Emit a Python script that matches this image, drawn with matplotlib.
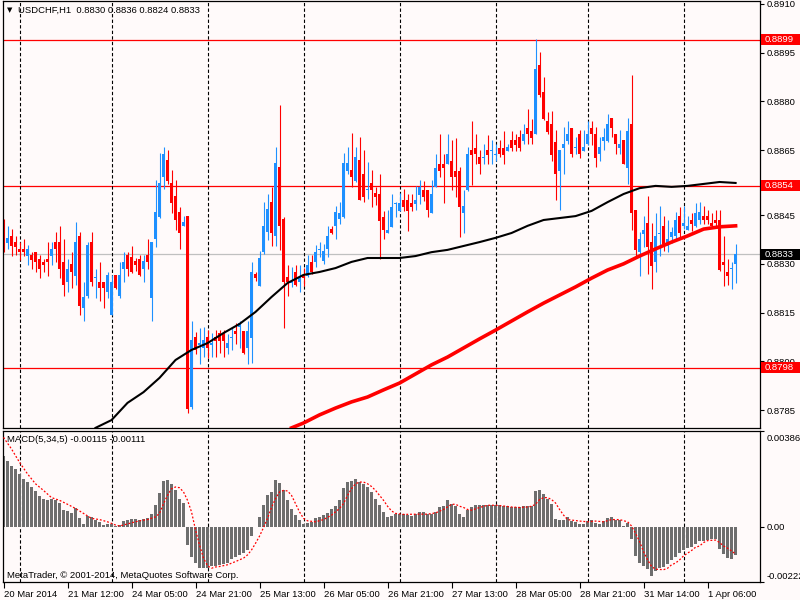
import numpy as np
import pandas as pd
import matplotlib
matplotlib.use('Agg')
import matplotlib.pyplot as plt
import matplotlib.transforms as mtransforms
from matplotlib.patches import Rectangle

plt.rcParams['font.family'] = ['Liberation Sans', 'DejaVu Sans']
plt.rcParams['font.size'] = 6.8

symbol = 'USDCHF,H1'

# hourly candles, 20 Mar 2014 20:00 .. 1 Apr 2014 13:00
open_ = np.array([
    0.88398, 0.88364, 0.88387, 0.88366, 0.88347, 0.88347, 0.88324, 0.88326, 0.88338, 0.88316,
    0.88307, 0.88316, 0.88324, 0.88366, 0.88366, 0.88307, 0.88243, 0.88298, 0.88264, 0.88387,
    0.88163, 0.88202, 0.88366, 0.88256, 0.88245, 0.88245, 0.88212, 0.88144, 0.88267, 0.88202,
    0.88283, 0.88326, 0.88320, 0.88308, 0.88316, 0.88283, 0.88326, 0.88194, 0.88376, 0.88445,
    0.88568, 0.88619, 0.88548, 0.88508, 0.88459, 0.88417, 0.88446, 0.87859, 0.88075, 0.88051,
    0.88042, 0.88075, 0.88051, 0.88075, 0.88086, 0.88086, 0.88042, 0.88073, 0.88094, 0.88106,
    0.88094, 0.88042, 0.88073, 0.88269, 0.88233, 0.88336, 0.88398, 0.88490, 0.88385, 0.88599,
    0.88437, 0.88259, 0.88241, 0.88276, 0.88243, 0.88267, 0.88264, 0.88307, 0.88305, 0.88344,
    0.88310, 0.88346, 0.88408, 0.88416, 0.88437, 0.88444, 0.88586, 0.88590, 0.88555, 0.88619,
    0.88578, 0.88527, 0.88549, 0.88517, 0.88515, 0.88445, 0.88394, 0.88414, 0.88485, 0.88464,
    0.88497, 0.88497, 0.88487, 0.88484, 0.88513, 0.88528, 0.88528, 0.88456, 0.88538, 0.88608,
    0.88608, 0.88608, 0.88618, 0.88587, 0.88587, 0.88456, 0.88528, 0.88649, 0.88657, 0.88629,
    0.88626, 0.88649, 0.88647, 0.88635, 0.88657, 0.88657, 0.88647, 0.88680, 0.88680, 0.88690,
    0.88678, 0.88719, 0.88709, 0.88699, 0.88912, 0.88829, 0.88740, 0.88730, 0.88675, 0.88587,
    0.88657, 0.88678, 0.88719, 0.88657, 0.88699, 0.88647, 0.88668, 0.88719, 0.88699, 0.88637,
    0.88678, 0.88678, 0.88750, 0.88699, 0.88657, 0.88680, 0.88596, 0.88730, 0.88467, 0.88336,
    0.88392, 0.88426, 0.88367, 0.88305, 0.88393, 0.88418, 0.88356, 0.88384, 0.88387, 0.88446,
    0.88416, 0.88405, 0.88436, 0.88415, 0.88436, 0.88446, 0.88446, 0.88426, 0.88436, 0.88436,
    0.88307, 0.88276, 0.88283, 0.88300])
high_ = np.array([
    0.88437, 0.88418, 0.88406, 0.88387, 0.88366, 0.88378, 0.88357, 0.88335, 0.88338, 0.88326,
    0.88316, 0.88366, 0.88366, 0.88398, 0.88418, 0.88378, 0.88316, 0.88338, 0.88428, 0.88397,
    0.88245, 0.88366, 0.88397, 0.88285, 0.88307, 0.88245, 0.88276, 0.88267, 0.88267, 0.88307,
    0.88338, 0.88335, 0.88354, 0.88318, 0.88326, 0.88326, 0.88377, 0.88366, 0.88557, 0.88640,
    0.88660, 0.88650, 0.88588, 0.88557, 0.88475, 0.88446, 0.88446, 0.88125, 0.88089, 0.88104,
    0.88107, 0.88097, 0.88087, 0.88097, 0.88097, 0.88097, 0.88084, 0.88107, 0.88117, 0.88125,
    0.88094, 0.88125, 0.88307, 0.88274, 0.88341, 0.88490, 0.88516, 0.88537, 0.88660, 0.88789,
    0.88444, 0.88297, 0.88290, 0.88297, 0.88297, 0.88286, 0.88326, 0.88328, 0.88357, 0.88367,
    0.88362, 0.88418, 0.88415, 0.88477, 0.88490, 0.88640, 0.88660, 0.88702, 0.88660, 0.88691,
    0.88650, 0.88614, 0.88588, 0.88537, 0.88577, 0.88464, 0.88466, 0.88515, 0.88489, 0.88517,
    0.88531, 0.88515, 0.88515, 0.88539, 0.88558, 0.88556, 0.88528, 0.88558, 0.88637, 0.88699,
    0.88637, 0.88699, 0.88680, 0.88688, 0.88598, 0.88528, 0.88661, 0.88740, 0.88699, 0.88649,
    0.88670, 0.88696, 0.88680, 0.88670, 0.88680, 0.88709, 0.88670, 0.88709, 0.88699, 0.88711,
    0.88730, 0.88778, 0.88747, 0.88991, 0.88951, 0.88876, 0.88768, 0.88771, 0.88711, 0.88649,
    0.88721, 0.88740, 0.88719, 0.88690, 0.88711, 0.88711, 0.88740, 0.88740, 0.88721, 0.88690,
    0.88719, 0.88760, 0.88750, 0.88699, 0.88711, 0.88680, 0.88748, 0.88882, 0.88467, 0.88398,
    0.88446, 0.88508, 0.88426, 0.88456, 0.88477, 0.88446, 0.88436, 0.88413, 0.88459, 0.88475,
    0.88477, 0.88446, 0.88456, 0.88487, 0.88490, 0.88477, 0.88467, 0.88456, 0.88467, 0.88467,
    0.88387, 0.88315, 0.88307, 0.88360])
low_ = np.array([
    0.88336, 0.88346, 0.88324, 0.88326, 0.88313, 0.88324, 0.88295, 0.88283, 0.88274, 0.88256,
    0.88274, 0.88264, 0.88295, 0.88305, 0.88256, 0.88202, 0.88212, 0.88225, 0.88235, 0.88143,
    0.88123, 0.88194, 0.88231, 0.88194, 0.88185, 0.88163, 0.88194, 0.88144, 0.88223, 0.88194,
    0.88243, 0.88264, 0.88273, 0.88277, 0.88263, 0.88243, 0.88283, 0.88123, 0.88353, 0.88441,
    0.88529, 0.88547, 0.88456, 0.88405, 0.88346, 0.88415, 0.87842, 0.87852, 0.88022, 0.87993,
    0.88014, 0.88011, 0.88014, 0.88014, 0.88024, 0.88014, 0.88022, 0.88034, 0.88053, 0.88042,
    0.88022, 0.87993, 0.87996, 0.88248, 0.88231, 0.88331, 0.88372, 0.88354, 0.88354, 0.88344,
    0.88104, 0.88202, 0.88228, 0.88233, 0.88212, 0.88233, 0.88259, 0.88269, 0.88290, 0.88320,
    0.88300, 0.88320, 0.88393, 0.88377, 0.88423, 0.88442, 0.88578, 0.88537, 0.88552, 0.88496,
    0.88490, 0.88501, 0.88475, 0.88480, 0.88314, 0.88376, 0.88394, 0.88412, 0.88443, 0.88462,
    0.88464, 0.88402, 0.88464, 0.88466, 0.88484, 0.88495, 0.88443, 0.88456, 0.88536, 0.88567,
    0.88486, 0.88606, 0.88526, 0.88505, 0.88383, 0.88394, 0.88525, 0.88544, 0.88608, 0.88577,
    0.88608, 0.88608, 0.88608, 0.88618, 0.88629, 0.88608, 0.88647, 0.88647, 0.88647, 0.88647,
    0.88670, 0.88668, 0.88670, 0.88699, 0.88814, 0.88742, 0.88701, 0.88618, 0.88497, 0.88466,
    0.88577, 0.88670, 0.88629, 0.88637, 0.88627, 0.88647, 0.88665, 0.88665, 0.88598, 0.88618,
    0.88649, 0.88675, 0.88690, 0.88637, 0.88637, 0.88606, 0.88547, 0.88405, 0.88322, 0.88264,
    0.88353, 0.88269, 0.88222, 0.88274, 0.88325, 0.88341, 0.88336, 0.88364, 0.88372, 0.88384,
    0.88408, 0.88403, 0.88402, 0.88413, 0.88423, 0.88423, 0.88423, 0.88413, 0.88415, 0.88279,
    0.88233, 0.88236, 0.88222, 0.88240])
close_ = np.array([
    0.88346, 0.88379, 0.88354, 0.88353, 0.88336, 0.88336, 0.88347, 0.88313, 0.88305, 0.88283,
    0.88295, 0.88305, 0.88347, 0.88345, 0.88283, 0.88234, 0.88285, 0.88274, 0.88366, 0.88171,
    0.88197, 0.88357, 0.88243, 0.88259, 0.88225, 0.88225, 0.88267, 0.88245, 0.88225, 0.88267,
    0.88307, 0.88283, 0.88276, 0.88297, 0.88265, 0.88308, 0.88305, 0.88366, 0.88459, 0.88548,
    0.88638, 0.88555, 0.88487, 0.88436, 0.88395, 0.88428, 0.87852, 0.88065, 0.88034, 0.88055,
    0.88065, 0.88042, 0.88055, 0.88063, 0.88063, 0.88063, 0.88055, 0.88075, 0.88084, 0.88117,
    0.88024, 0.88094, 0.88276, 0.88256, 0.88317, 0.88418, 0.88468, 0.88396, 0.88611, 0.88415,
    0.88243, 0.88243, 0.88243, 0.88235, 0.88256, 0.88256, 0.88297, 0.88276, 0.88338, 0.88346,
    0.88341, 0.88387, 0.88396, 0.88460, 0.88457, 0.88611, 0.88611, 0.88568, 0.88630, 0.88498,
    0.88506, 0.88529, 0.88527, 0.88505, 0.88433, 0.88404, 0.88404, 0.88476, 0.88487, 0.88487,
    0.88474, 0.88464, 0.88474, 0.88497, 0.88536, 0.88505, 0.88466, 0.88515, 0.88596, 0.88585,
    0.88596, 0.88637, 0.88567, 0.88567, 0.88474, 0.88479, 0.88637, 0.88634, 0.88637, 0.88608,
    0.88629, 0.88634, 0.88649, 0.88637, 0.88637, 0.88634, 0.88660, 0.88657, 0.88665, 0.88657,
    0.88699, 0.88699, 0.88688, 0.88899, 0.88819, 0.88747, 0.88706, 0.88634, 0.88577, 0.88649,
    0.88668, 0.88699, 0.88637, 0.88660, 0.88637, 0.88660, 0.88699, 0.88699, 0.88627, 0.88660,
    0.88690, 0.88730, 0.88719, 0.88668, 0.88668, 0.88608, 0.88710, 0.88456, 0.88343, 0.88377,
    0.88405, 0.88353, 0.88294, 0.88387, 0.88395, 0.88362, 0.88377, 0.88398, 0.88436, 0.88394,
    0.88426, 0.88418, 0.88423, 0.88456, 0.88459, 0.88436, 0.88436, 0.88415, 0.88425, 0.88281,
    0.88295, 0.88264, 0.88285, 0.88330])

# moving averages (at some bars)
ma_black_bar = [23, 27, 31, 35, 39, 43, 47, 51, 55, 59, 63, 67, 71, 75, 79, 83, 87, 91, 95, 99,
                103, 107, 111, 115, 119, 123, 127, 131, 135, 139, 143, 147, 151, 155, 159,
                163, 167, 171, 175, 179, 183]
ma_black = [0.87795, 0.87819, 0.87872, 0.87905, 0.87949, 0.88004, 0.88035, 0.88056, 0.88087,
            0.88115, 0.88152, 0.88198, 0.88241, 0.88266, 0.88275, 0.88287, 0.88306, 0.88318,
            0.88318, 0.88318, 0.88324, 0.88336, 0.88343, 0.88355, 0.88367, 0.88380, 0.88395,
            0.88417, 0.88435, 0.88441, 0.88447, 0.88463, 0.88490, 0.88515, 0.88533, 0.88540,
            0.88537, 0.88540, 0.88546, 0.88552, 0.88549]
ma_red_bar = [72, 75, 79, 83, 87, 91, 95, 99, 103, 107, 111, 115, 119, 123, 127, 131, 135, 139,
              143, 147, 151, 155, 159, 163, 167, 171, 175, 179, 183]
ma_red = [0.87795, 0.87810, 0.87835, 0.87856, 0.87875, 0.87890, 0.87912, 0.87933, 0.87961,
          0.87989, 0.88013, 0.88041, 0.88069, 0.88096, 0.88124, 0.88152, 0.88179, 0.88204,
          0.88229, 0.88256, 0.88281, 0.88300, 0.88324, 0.88346, 0.88367, 0.88386, 0.88407,
          0.88414, 0.88417]

# MACD(5,34,5) main histogram, one value per bar
macd = np.array([
    0.00285, 0.00265, 0.00248, 0.00232, 0.00212, 0.00194, 0.00181, 0.00163, 0.00145, 0.00123,
    0.00114, 0.00107, 0.00111, 0.00110, 0.00096, 0.00067, 0.00064, 0.00054, 0.00074, 0.00034,
    0.00011, 0.00043, 0.00038, 0.00029, 0.00020, 0.00009, 0.00011, 0.00013, 0.00003, 0.00007,
    0.00024, 0.00027, 0.00031, 0.00031, 0.00029, 0.00032, 0.00034, 0.00051, 0.00090, 0.00137,
    0.00185, 0.00190, 0.00174, 0.00147, 0.00114, 0.00096, -0.00074, -0.00121, -0.00147, -0.00168,
    -0.00168, -0.00168, -0.00161, -0.00158, -0.00154, -0.00150, -0.00145, -0.00131, -0.00121, -0.00114,
    -0.00105, -0.00094, -0.00038, -0.00003, 0.00038, 0.00087, 0.00127, 0.00141, 0.00190, 0.00177,
    0.00147, 0.00110, 0.00070, 0.00047, 0.00029, 0.00013, 0.00016, 0.00020, 0.00034, 0.00038,
    0.00047, 0.00056, 0.00070, 0.00083, 0.00107, 0.00158, 0.00181, 0.00184, 0.00194, 0.00181,
    0.00174, 0.00163, 0.00141, 0.00114, 0.00087, 0.00060, 0.00040, 0.00043, 0.00051, 0.00051,
    0.00050, 0.00047, 0.00044, 0.00050, 0.00059, 0.00059, 0.00051, 0.00051, 0.00060, 0.00078,
    0.00084, 0.00107, 0.00091, 0.00083, 0.00051, 0.00038, 0.00067, 0.00078, 0.00090, 0.00087,
    0.00087, 0.00087, 0.00090, 0.00087, 0.00087, 0.00083, 0.00083, 0.00080, 0.00078, 0.00078,
    0.00083, 0.00083, 0.00084, 0.00145, 0.00147, 0.00131, 0.00114, 0.00094, 0.00031, 0.00027,
    0.00027, 0.00038, 0.00023, 0.00020, 0.00011, 0.00013, 0.00023, 0.00027, 0.00016, 0.00013,
    0.00023, 0.00034, 0.00038, 0.00029, 0.00027, 0.00003, 0.00016, -0.00050, -0.00118, -0.00145,
    -0.00158, -0.00172, -0.00198, -0.00181, -0.00168, -0.00165, -0.00150, -0.00134, -0.00121, -0.00107,
    -0.00096, -0.00087, -0.00083, -0.00070, -0.00056, -0.00056, -0.00054, -0.00051, -0.00050, -0.00090,
    -0.00110, -0.00125, -0.00130, -0.00115])

# signal line (dotted), read at some bars
signal_bar = [0, 2, 4, 6, 8, 10, 12, 14, 16, 18, 20, 22, 24, 26, 28, 29, 30, 32, 34, 36, 38, 39,
              40, 41, 42, 43, 44, 45, 46, 47, 48, 49, 50, 51, 52, 53, 54, 56, 58, 60, 61, 62, 63,
              64, 65, 66, 67, 68, 69, 70, 71, 72, 73, 74, 75, 76, 78, 80, 82, 84, 85, 86, 87, 88,
              89, 90, 91, 92, 93, 94, 95, 96, 97, 98, 100, 104, 106, 108, 110, 112, 113, 114, 115,
              116, 117, 119, 121, 123, 125, 127, 129, 131, 132, 133, 134, 135, 136, 137, 138, 139,
              140, 141, 142, 144, 146, 148, 150, 152, 154, 156, 157, 158, 159, 160, 161, 162, 163,
              165, 166, 167, 168, 169, 170, 171, 172, 173, 174, 175, 176, 178, 179, 180, 181, 182,
              183]
signal = [0.00362, 0.00315, 0.00261, 0.00214, 0.00174, 0.00147, 0.00118, 0.00107, 0.00091,
          0.00074, 0.00054, 0.00034, 0.00029, 0.00020, 0.00007, 0.00003, 0.00007, 0.00016,
          0.00024, 0.00029, 0.00040, 0.00054, 0.00094, 0.00127, 0.00154, 0.00161, 0.00158,
          0.00141, 0.00107, 0.00060, -0.00013, -0.00074, -0.00127, -0.00158, -0.00168, -0.00163,
          -0.00161, -0.00154, -0.00141, -0.00127, -0.00114, -0.00094, -0.00067, -0.00038,
          -0.00003, 0.00034, 0.00078, 0.00114, 0.00141, 0.00147, 0.00145, 0.00127, 0.00094,
          0.00060, 0.00034, 0.00024, 0.00020, 0.00029, 0.00047, 0.00074, 0.00094, 0.00127,
          0.00154, 0.00174, 0.00181, 0.00181, 0.00174, 0.00163, 0.00147, 0.00127, 0.00107,
          0.00083, 0.00064, 0.00054, 0.00050, 0.00051, 0.00051, 0.00056, 0.00070, 0.00091,
          0.00091, 0.00083, 0.00078, 0.00070, 0.00067, 0.00078, 0.00087, 0.00087, 0.00084,
          0.00080, 0.00078, 0.00080, 0.00083, 0.00091, 0.00110, 0.00118, 0.00118, 0.00110,
          0.00096, 0.00070, 0.00047, 0.00029, 0.00027, 0.00023, 0.00020, 0.00023, 0.00020,
          0.00029, 0.00029, 0.00020, 0.00003, -0.00027, -0.00060, -0.00101, -0.00134, -0.00161,
          -0.00172, -0.00174, -0.00168, -0.00154, -0.00147, -0.00134, -0.00118, -0.00107,
          -0.00096, -0.00083, -0.00078, -0.00064, -0.00056, -0.00054, -0.00064, -0.00078,
          -0.00087, -0.00098, -0.00111]

levels = [0.8899, 0.8854, 0.8798]
bid = 0.8833
price_ticks = [0.8910, 0.8895, 0.8880, 0.8865, 0.8855, 0.8845, 0.8830, 0.8815, 0.8800, 0.8785]
macd_ticks = [0.00386, 0.0, -0.00222]
macd_tick_labels = ['0.00386', '0.00', '-0.00222']
time_labels = ['20 Mar 2014', '21 Mar 12:00', '24 Mar 05:00', '24 Mar 21:00', '25 Mar 13:00',
               '26 Mar 05:00', '26 Mar 21:00', '27 Mar 13:00', '28 Mar 05:00', '28 Mar 21:00',
               '31 Mar 14:00', '1 Apr 06:00']

# bar times (no weekend bars)
times = pd.date_range('2014-03-20 20:00', '2014-04-01 13:00', freq='h')
weekend = ((times >= '2014-03-21 23:00') & (times < '2014-03-24')) | \
          ((times >= '2014-03-28 23:00') & (times < '2014-03-31'))
times = times[~weekend]
names = [f"{t.day} {t:%b %H:%M}" for t in times]
label_pos = [0] + [names.index(s) for s in time_labels[1:]]
day_starts = np.where(times.hour == 0)[0]

bg = '#fffafa'
fig = plt.figure(figsize=(8, 6), dpi=100, facecolor=bg)
L, R = 2.5 / 800, 760 / 800
ax = fig.add_axes([L, 1 - 428.3 / 600, R - L, 427.3 / 600], facecolor=bg)
axm = fig.add_axes([L, 1 - 582.3 / 600, R - L, 151.6 / 600], facecolor=bg)

idx = np.arange(len(close_))
up = close_ >= open_
cols = np.where(up, '#1e90ff', '#ff0000')
ax.vlines(idx, low_, high_, colors=cols, lw=0.8, zorder=2)
ax.bar(idx, np.maximum(np.abs(close_ - open_), 0.00003), bottom=np.minimum(open_, close_),
       width=0.75, color=cols, lw=0, zorder=2)
ax.plot(ma_black_bar, ma_black, color='black', lw=1.5, zorder=3)
ax.plot(ma_red_bar, ma_red, color='#ff0000', lw=2.6, zorder=3)

for lv in levels:
    ax.axhline(lv, color='#ff0000', lw=0.9, zorder=1)
ax.axhline(bid, color='#c0c0c0', lw=0.9, zorder=1)

ymin, ymax = 0.877937, 0.891092
ax.set_xlim(-0.25, 189.1)
ax.set_ylim(ymin, ymax)
ax.set_xticks([])
ax.yaxis.tick_right()
ax.set_yticks(price_ticks, [f'{p:.4f}' for p in price_ticks])
ax.tick_params(axis='y', length=3, width=0.8, pad=1.5, labelsize=6.8)

dpp = (ymax - ymin) / 427.3
trans = mtransforms.blended_transform_factory(fig.transFigure, ax.transData)
for lv, fc in [(levels[0], '#ff0000'), (levels[1], '#ff0000'), (levels[2], '#ff0000'), (bid, 'black')]:
    ax.add_patch(Rectangle((761 / 800, lv - 5.5 * dpp), 39 / 800, 11 * dpp, transform=trans,
                           fc=fc, ec='none', clip_on=False, zorder=5))
    ax.text(765 / 800, lv, f'{lv:.4f}', transform=trans, color='white', va='center',
            ha='left', zorder=6, clip_on=False)

# MACD panel
mcol = '#6e6e6e'
axm.bar(idx, macd, width=0.75, color=mcol, lw=0, zorder=2)
axm.plot(signal_bar, signal, color='#ff0000', lw=0.9, ls=(0, (1.5, 1.5)), zorder=3)
axm.set_xlim(-0.25, 189.1)
axm.set_ylim(-0.00225, 0.00389)
axm.yaxis.tick_right()
axm.set_yticks(macd_ticks, macd_tick_labels)
axm.tick_params(axis='y', length=3, width=0.8, pad=1.5, labelsize=6.8)
ylabels = axm.get_yticklabels()
ylabels[0].set_transform(ylabels[0].get_transform() +
                         mtransforms.ScaledTranslation(0, -6 / 100, fig.dpi_scale_trans))
ylabels[2].set_transform(ylabels[2].get_transform() +
                         mtransforms.ScaledTranslation(0, 6 / 100, fig.dpi_scale_trans))
axm.set_xticks(label_pos, time_labels, ha='left')
axm.tick_params(axis='x', length=4, width=0.8, pad=1.5, labelsize=6.8)

for a in (ax, axm):
    for d in day_starts:
        a.axvline(d, color='black', lw=0.8, ls=(0, (3, 2)), zorder=1)
    for s in a.spines.values():
        s.set_color('black')
        s.set_linewidth(0.9)

fig.text(7 / 800, 1 - 10 / 600, '\u25bc', fontsize=5, va='center', ha='left',
         family=['DejaVu Sans'])
fig.text(18 / 800, 1 - 10 / 600,
         f'{symbol}  {open_[-1]:.4f} {high_[-1]:.4f} {low_[-1]:.4f} {close_[-1]:.4f}',
         va='center', ha='left')
fig.text(7 / 800, 1 - 440 / 600, f'MACD(5,34,5) {macd[-1]:.5f} {signal[-1]:.5f}',
         va='center', ha='left')
fig.text(7 / 800, 1 - 575 / 600, 'MetaTrader, \u00a9 2001-2014, MetaQuotes Software Corp.',
         va='center', ha='left')

fig.savefig('out.png', dpi=100, facecolor=bg)
